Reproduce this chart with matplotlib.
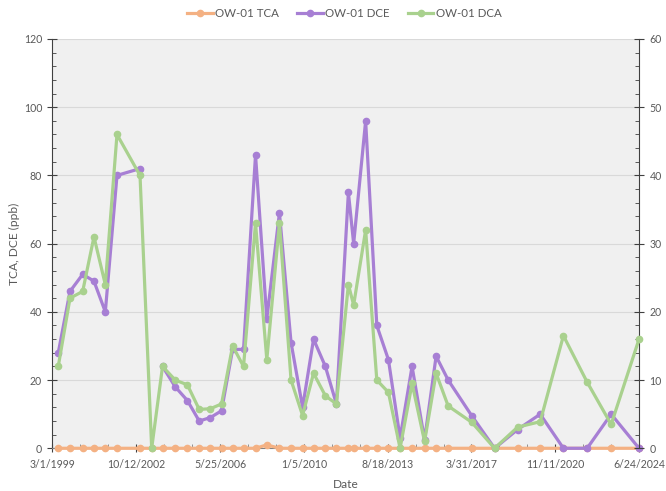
import datetime as dt
import numpy as np
import matplotlib
matplotlib.use('Agg')
import matplotlib.pyplot as plt
import matplotlib.dates as mdates
from matplotlib.ticker import MultipleLocator, FixedLocator

plt.rcParams['font.family'] = ['Lato', 'DejaVu Sans']

##### DATEN #####
dates = ['1999-05-31', '1999-12-02', '2000-06-19', '2000-12-14', '2001-06-11', '2001-12-12',
         '2002-12-10', '2003-06-12', '2003-11-30', '2004-06-18', '2004-12-26', '2005-06-30',
         '2005-12-23', '2006-06-17', '2006-12-09', '2007-05-30', '2007-12-05', '2008-05-31',
         '2008-12-16', '2009-06-17', '2009-12-16', '2010-06-07', '2010-12-10', '2011-06-02',
         '2011-12-08', '2012-02-29', '2012-09-05', '2013-02-28', '2013-08-30', '2014-03-02',
         '2014-09-07', '2015-03-23', '2015-09-21', '2016-03-29', '2017-04-06', '2018-03-31',
         '2019-03-29', '2020-03-19', '2021-03-20', '2022-03-29', '2023-04-12', '2024-06-24']

tca = [0, 0, 0, 0, 0, 0, 0, 0, 0, 0, 0, 0, 0, 0, 0, 0, 0, 1, 0, 0, 0,
       0, 0, 0, 0, 0, 0, 0, 0, 0, 0, 0, 0, 0, 0, 0, 0, 0, 0, 0, 0, 0]
dce = [28, 46, 51, 49, 40, 80, 82, np.nan, 24, 18, 14, 8, 9, 11, 29, 29, 86, 38, 69, 31, 12,
       32, 24, 13, 75, 60, 96, 36, 26, 3, 24, 2.5, 27, 20, 9.5, 0, 5.5, 10, 0, 0, 10, 0]
dca = [12, 22, 23, 31, 24, 46, 40, 0, 12, 10, 9.3, 5.7, 5.8, 6.5, 15, 12, 33, 13, 33, 10, 4.8,
       11, 7.7, 6.5, 24, 21, 32, 10, 8.2, 0, 9.5, 1, 11, 6.2, 3.8, 0, 3.1, 3.9, 16.5, 9.7, 3.5, 16]

x_start = dt.datetime(1999, 3, 1)
x_end = dt.datetime(2024, 6, 24)
tick_step = 1321  # Tage zwischen den Beschriftungen

c_tca = '#f4b183'
c_dce = '#a77fd4'
c_dca = '#a9d18e'
c_text = '#595959'

x = mdates.date2num([dt.datetime.strptime(d, '%Y-%m-%d') for d in dates])

fig = plt.figure(figsize=(6.66, 4.91), dpi=100)
ax = fig.add_axes([0.0788, 0.087, 0.8807, 0.8336])
ax.set_facecolor('#f0f0f0')
ax2 = ax.twinx()

style = dict(lw=2.3, marker='o', ms=4.5, solid_joinstyle='round', clip_on=False)
l1, = ax.plot(x, tca, color=c_tca, label='OW-01 TCA', zorder=3, **style)
l2, = ax.plot(x, dce, color=c_dce, label='OW-01 DCE', zorder=4, **style)
l3, = ax2.plot(x, dca, color=c_dca, label='OW-01 DCA', zorder=3, **style)

# Achsen
x0 = mdates.date2num(x_start)
x1 = mdates.date2num(x_end)
ax.set_xlim(x0, x1)
majors = [x0 + k * tick_step for k in range(8)]
ax.xaxis.set_major_locator(FixedLocator(majors))
ax.xaxis.set_minor_locator(FixedLocator([x0 + k * tick_step / 3 for k in range(22)]))
labels = []
for m in majors:
    d = mdates.num2date(m)
    labels.append(f'{d.month}/{d.day}/{d.year}')
ax.set_xticklabels(labels)

ax.set_ylim(0, 120)
ax.yaxis.set_major_locator(MultipleLocator(20))
ax.yaxis.set_minor_locator(MultipleLocator(4))
ax2.set_ylim(0, 60)
ax2.yaxis.set_major_locator(MultipleLocator(10))
ax2.yaxis.set_minor_locator(MultipleLocator(2))

ax.grid(axis='y', color='#d9d9d9', lw=0.8)
ax.set_axisbelow(True)

for a in (ax, ax2):
    for s in a.spines.values():
        s.set_visible(False)
ax.spines['left'].set_visible(True)
ax.spines['left'].set_color('#404040')
ax.spines['bottom'].set_visible(True)
ax.spines['bottom'].set_color('#808080')
ax2.spines['right'].set_visible(True)
ax2.spines['right'].set_color('#404040')

fs = 7.6
ax.tick_params(axis='y', which='major', direction='inout', length=7, color='#404040',
               labelsize=fs, labelcolor=c_text, pad=4)
ax.tick_params(axis='y', which='minor', direction='in', length=3, color='#404040')
ax2.tick_params(axis='y', which='major', direction='inout', length=7, color='#404040',
                labelsize=fs, labelcolor=c_text, pad=4)
ax2.tick_params(axis='y', which='minor', direction='in', length=3, color='#404040')
ax.tick_params(axis='x', which='major', direction='inout', length=6, color='#404040',
               labelsize=fs, labelcolor=c_text, pad=5)
ax.tick_params(axis='x', which='minor', direction='in', length=3, color='#808080')

ax.set_ylabel('TCA, DCE (ppb)', color=c_text, fontsize=8.6, labelpad=3)
ax.set_xlabel('Date', color=c_text, fontsize=8.6, labelpad=6)

fig.legend(handles=[l1, l2, l3], loc='upper center', bbox_to_anchor=(0.517, 1.005), ncol=3,
           frameon=False, fontsize=8.3, labelcolor=c_text, handlelength=2.2, columnspacing=1.6,
           handletextpad=0.2)

fig.savefig('out.png', dpi=100)
